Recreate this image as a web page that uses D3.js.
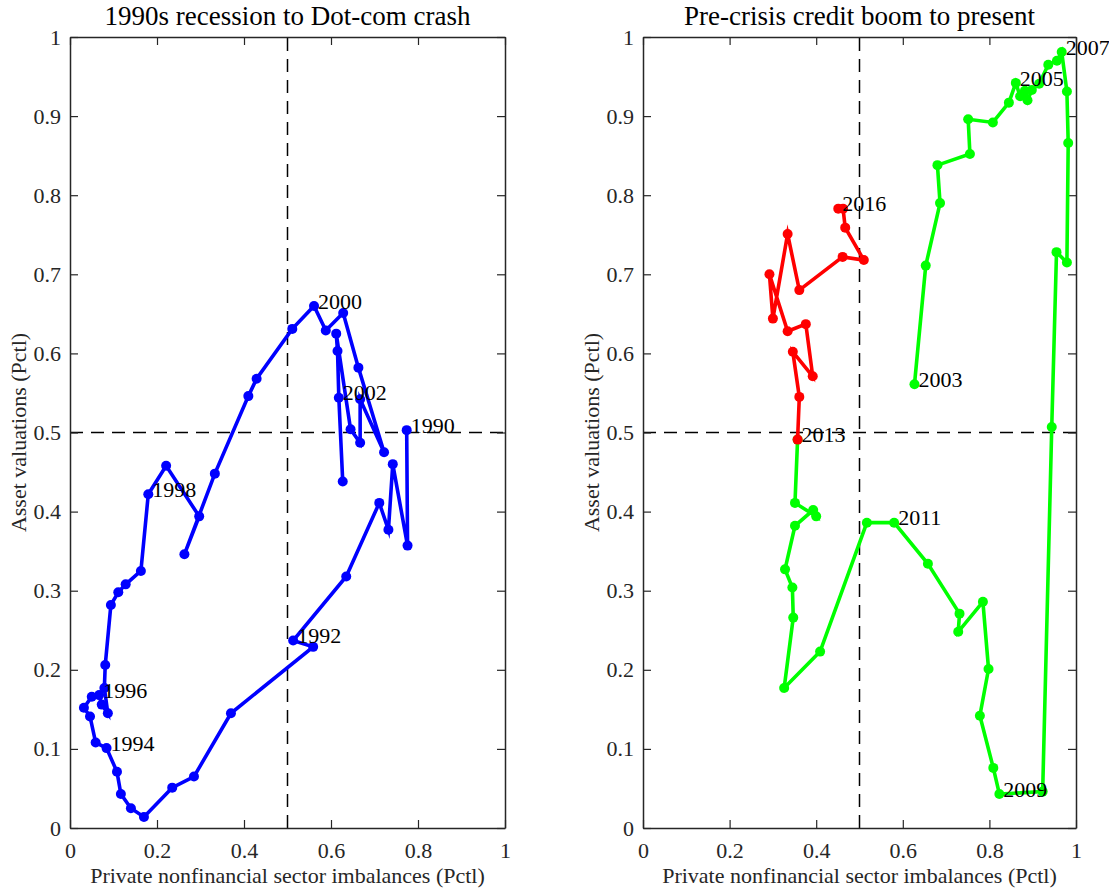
<!DOCTYPE html>
<html>
<head>
<meta charset="utf-8">
<script src="https://cdn.jsdelivr.net/npm/d3@7"></script>
<style>
  body { margin: 0; background: #fff; }
  svg text { font-family: "Liberation Serif", "Times New Roman", serif; }
</style>
</head>
<body>
<svg id="chart"></svg>
<script>
/* global d3 */

const xTicks = [0, 0.2, 0.4, 0.6, 0.8, 1];
const yTicks = [0, 0.1, 0.2, 0.3, 0.4, 0.5, 0.6, 0.7, 0.8, 0.9, 1];

const titles = ['1990s recession to Dot-com crash', 'Pre-crisis credit boom to present'];
const xLabel = 'Private nonfinancial sector imbalances (Pctl)';
const yLabel = 'Asset valuations (Pctl)';

// 1990 -> 2002
const blueX = [0.774, 0.776, 0.742, 0.732, 0.711, 0.635, 0.513, 0.559, 0.370, 0.285,
  0.235, 0.170, 0.140, 0.117, 0.108, 0.084, 0.059, 0.046, 0.032, 0.050,
  0.067, 0.073, 0.087, 0.079, 0.081, 0.094, 0.111, 0.128, 0.163, 0.180,
  0.221, 0.297, 0.263, 0.333, 0.410, 0.429, 0.511, 0.561, 0.588, 0.628,
  0.663, 0.722, 0.667, 0.667, 0.645, 0.612, 0.615, 0.618, 0.627];
const blueY = [0.503, 0.357, 0.460, 0.377, 0.411, 0.318, 0.237, 0.229, 0.145, 0.065,
  0.051, 0.014, 0.025, 0.043, 0.071, 0.101, 0.108, 0.141, 0.152, 0.166,
  0.168, 0.156, 0.145, 0.177, 0.206, 0.282, 0.298, 0.308, 0.325, 0.422,
  0.458, 0.394, 0.346, 0.448, 0.546, 0.568, 0.631, 0.660, 0.629, 0.651,
  0.582, 0.475, 0.542, 0.487, 0.504, 0.625, 0.603, 0.544, 0.438];
const blueLabels = ['1990', '1992', '1994', '1996', '1998', '2000', '2002'];
const blueLabelAt = [0, 6, 15, 20, 29, 37, 47];

// 2003 -> 2013
const greenX = [0.627, 0.653, 0.686, 0.680, 0.755, 0.751, 0.808, 0.845, 0.861, 0.871,
  0.882, 0.888, 0.898, 0.915, 0.936, 0.956, 0.967, 0.979, 0.982, 0.979,
  0.955, 0.944, 0.923, 0.823, 0.809, 0.778, 0.798, 0.785, 0.728, 0.731,
  0.658, 0.580, 0.517, 0.409, 0.326, 0.347, 0.345, 0.328, 0.351, 0.393,
  0.400, 0.351, 0.357];
const greenY = [0.561, 0.711, 0.790, 0.838, 0.852, 0.896, 0.892, 0.917, 0.942, 0.925,
  0.932, 0.920, 0.933, 0.941, 0.965, 0.970, 0.981, 0.931, 0.866, 0.715,
  0.728, 0.507, 0.046, 0.043, 0.076, 0.142, 0.201, 0.286, 0.248, 0.271,
  0.334, 0.386, 0.386, 0.223, 0.177, 0.266, 0.304, 0.327, 0.382, 0.402,
  0.394, 0.411, 0.491];
const greenLabels = ['2003', '2005', '2007', '2009', '2011'];
const greenLabelAt = [0, 8, 16, 23, 31];

// 2013 -> 2016
const redX = [0.357, 0.361, 0.346, 0.392, 0.376, 0.334, 0.292, 0.300, 0.334, 0.361,
  0.461, 0.510, 0.467, 0.462, 0.451];
const redY = [0.491, 0.545, 0.602, 0.571, 0.637, 0.628, 0.700, 0.644, 0.751, 0.680,
  0.722, 0.718, 0.759, 0.783, 0.783];
const redLabels = ['2013', '2016'];
const redLabelAt = [0, 14];

const WIDTH  = 1109;
const HEIGHT = 888;
const TOP    = 37;
const BOTTOM = 828;
const AXIS_COLOR = '#262626';

const svg = d3.select('#chart')
  .attr('width', WIDTH)
  .attr('height', HEIGHT);

const renderPanel = function (left, right, title, series) {
  const x = d3.scaleLinear().domain([0, 1]).range([left, right]);
  const y = d3.scaleLinear().domain([0, 1]).range([BOTTOM, TOP]);
  const g = svg.append('g');

  // reference lines at the median
  g.append('line')
    .attr('x1', x(0.5)).attr('x2', x(0.5))
    .attr('y1', y(0)).attr('y2', y(1))
    .attr('stroke', '#000').attr('stroke-width', 1.5)
    .attr('stroke-dasharray', '13,8');
  g.append('line')
    .attr('x1', x(0)).attr('x2', x(1))
    .attr('y1', y(0.5)).attr('y2', y(0.5))
    .attr('stroke', '#000').attr('stroke-width', 1.5)
    .attr('stroke-dasharray', '13,8');

  const axes = [
    [d3.axisBottom(x).tickValues(xTicks).tickFormat(d => String(d)).tickPadding(14), `translate(0,${BOTTOM})`],
    [d3.axisTop(x).tickValues(xTicks).tickFormat(''), `translate(0,${TOP})`],
    [d3.axisLeft(y).tickValues(yTicks).tickFormat(d => String(d)).tickPadding(9), `translate(${left},0)`],
    [d3.axisRight(y).tickValues(yTicks).tickFormat(''), `translate(${right},0)`],
  ];
  axes.forEach(([axis, transform]) => {
    const a = g.append('g')
      .attr('transform', transform)
      .call(axis.tickSizeInner(-8).tickSizeOuter(0));
    a.select('.domain').attr('stroke', AXIS_COLOR).attr('stroke-width', 1.5);
    a.selectAll('.tick line').attr('stroke', AXIS_COLOR).attr('stroke-width', 1.2);
    a.selectAll('.tick text')
      .attr('fill', AXIS_COLOR)
      .attr('font-size', 22)
      .style('font-family', '"Liberation Serif", "Times New Roman", serif');
  });

  const line = d3.line()
    .x(d => x(d[0]))
    .y(d => y(d[1]));

  series.forEach((s) => {
    const pts = s.xs.map((v, i) => [v, s.ys[i]]);
    g.append('path')
      .datum(pts)
      .attr('d', line)
      .attr('fill', 'none')
      .attr('stroke', s.color)
      .attr('stroke-width', 3.6)
      .attr('stroke-linejoin', 'miter')
      .attr('stroke-miterlimit', 6);
    g.selectAll(null)
      .data(pts)
      .enter()
      .append('circle')
      .attr('cx', d => x(d[0]))
      .attr('cy', d => y(d[1]))
      .attr('r', 5)
      .attr('fill', s.color);
  });

  series.forEach((s) => {
    g.selectAll(null)
      .data(s.labels)
      .enter()
      .append('text')
      .attr('x', (d, i) => x(s.xs[s.labelAt[i]]) + 4)
      .attr('y', (d, i) => y(s.ys[s.labelAt[i]]) - 5)
      .attr('dy', '0.35em')
      .attr('font-size', 22)
      .attr('fill', '#000')
      .text(d => d);
  });

  g.append('text')
    .attr('x', (left + right) / 2)
    .attr('y', 16)
    .attr('dy', '0.35em')
    .attr('text-anchor', 'middle')
    .attr('font-size', 27)
    .attr('fill', '#000')
    .text(title);

  g.append('text')
    .attr('x', (left + right) / 2)
    .attr('y', 875)
    .attr('dy', '0.35em')
    .attr('text-anchor', 'middle')
    .attr('font-size', 22)
    .attr('fill', AXIS_COLOR)
    .text(xLabel);

  g.append('text')
    .attr('transform', `translate(${left - 52},${y(0.5)}) rotate(-90)`)
    .attr('dy', '0.35em')
    .attr('text-anchor', 'middle')
    .attr('font-size', 22)
    .attr('fill', AXIS_COLOR)
    .text(yLabel);
};

renderPanel(70, 505, titles[0], [
  { xs: blueX, ys: blueY, color: '#0000ff', labels: blueLabels, labelAt: blueLabelAt },
]);

renderPanel(643, 1076, titles[1], [
  { xs: greenX, ys: greenY, color: '#00ff00', labels: greenLabels, labelAt: greenLabelAt },
  { xs: redX, ys: redY, color: '#ff0000', labels: redLabels, labelAt: redLabelAt },
]);
</script>
</body>
</html>
